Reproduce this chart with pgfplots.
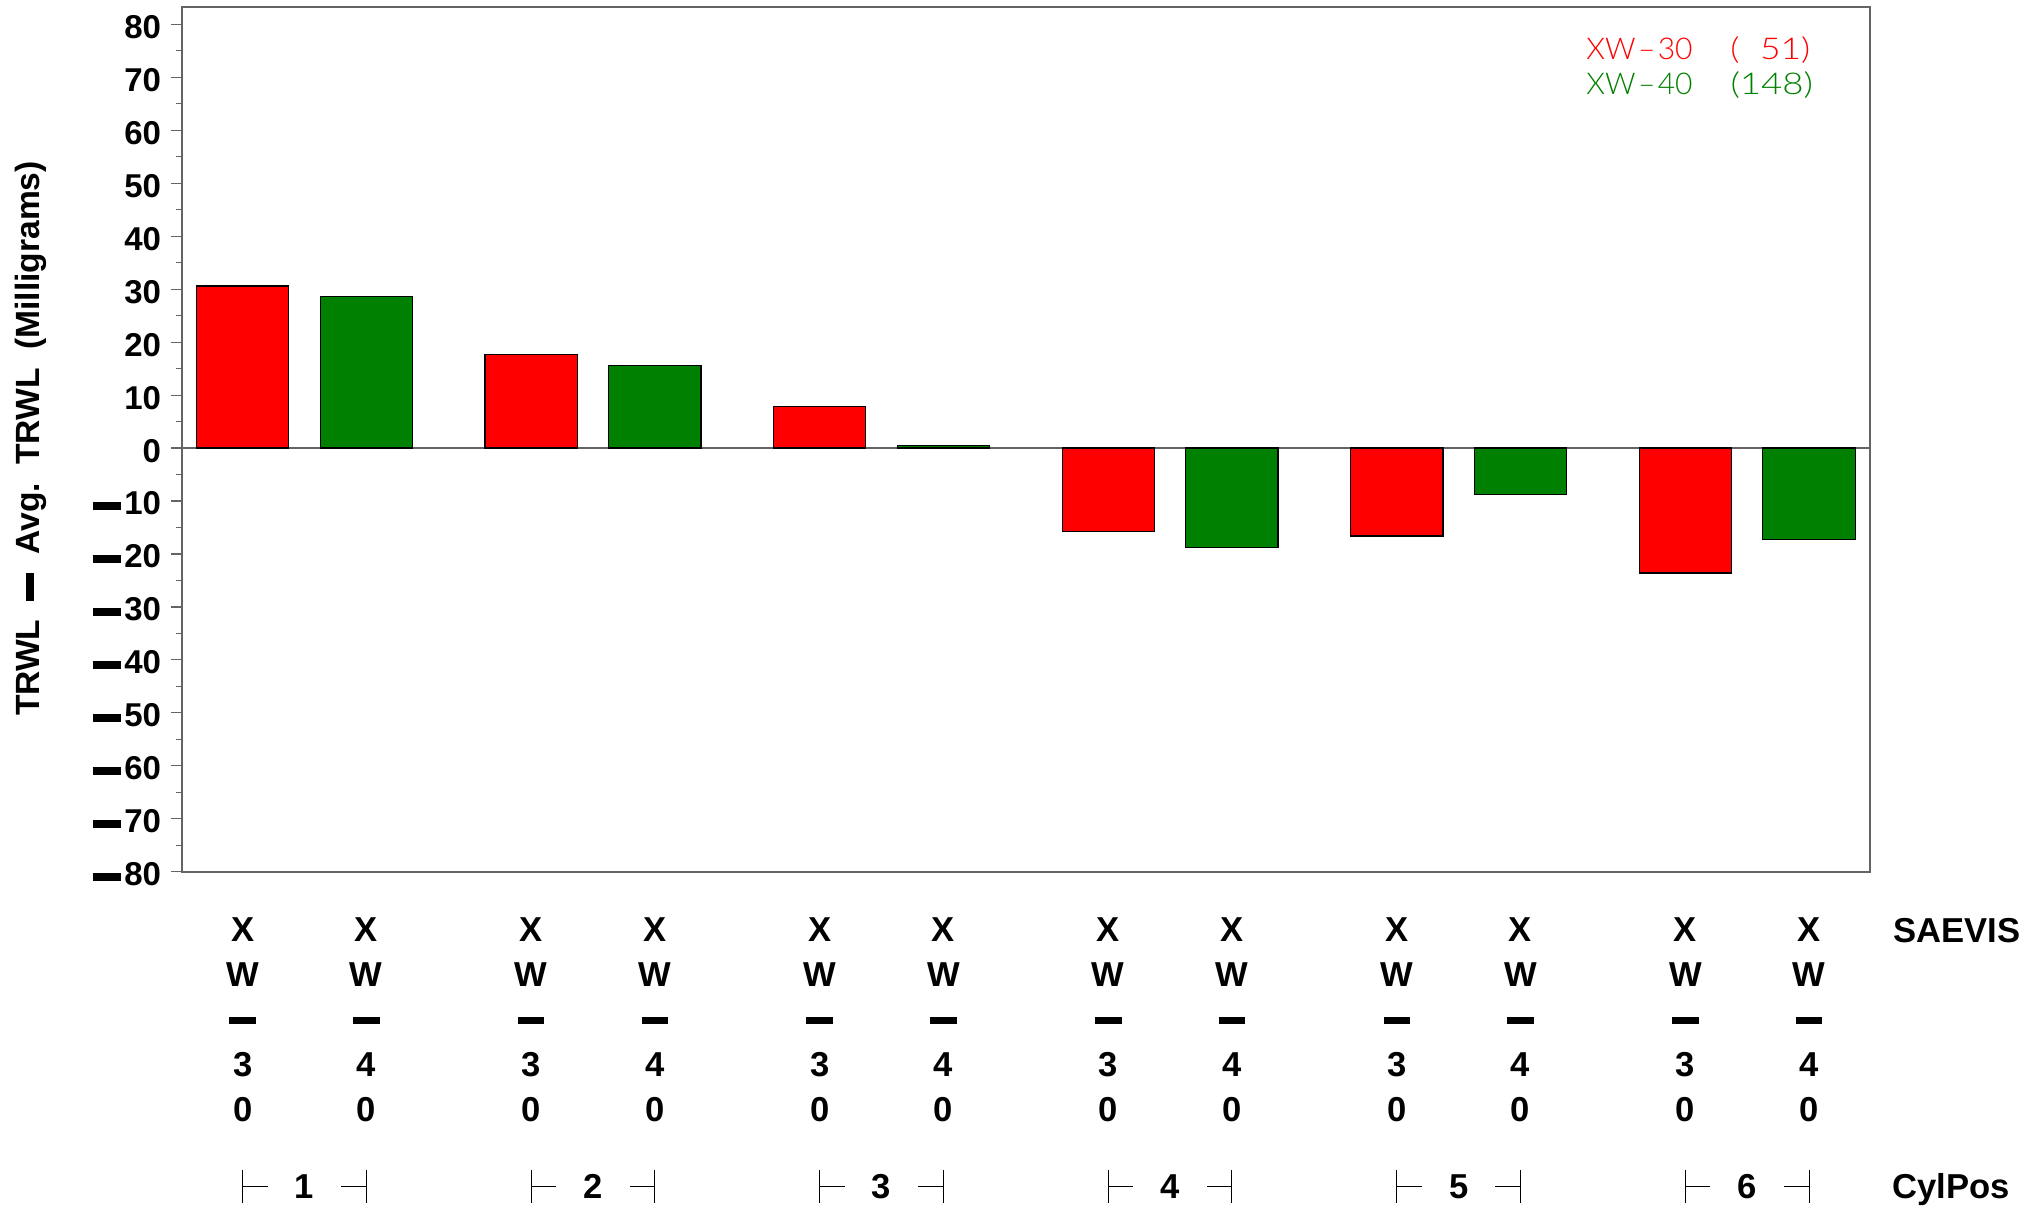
\documentclass[border=0pt]{standalone}
\usepackage{pgfplots}
\pgfplotsset{compat=1.18}
\usepackage{fontspec}
\setmainfont{Liberation Sans}
\newfontfamily\thinfont{Lato Light}
\definecolor{barred}{RGB}{255,0,0}
\definecolor{bargreen}{RGB}{0,128,0}
\definecolor{axgray}{RGB}{100,100,100}
\newcommand\mn{\rule[0.14em]{0.86em}{0.25em}\kern0.1em}
\newcommand\mnx{\rule[3.75pt]{13.25pt}{3.5pt}}
\begin{document}
\begin{tikzpicture}
\path[use as bounding box] (0pt,0pt) rectangle (1015pt,-603.5pt);
\begin{axis}[
  at={(90.85pt,-435.85pt)}, anchor=south west,
  scale only axis, width=843.9pt, height=432.4pt,
  xmin=-0.493, xmax=13.156, ymin=-80, ymax=83.3,
  axis line style={axgray, line width=1pt},
  clip=false,
  ybar, bar width=0.746,
  xtick={0,1,2.3333,3.3333,4.6667,5.6667,7,8,9.3333,10.3333,11.6667,12.6667},
  xticklabels={
    {X\\W\\\mnx\\3\\0},{X\\W\\\mnx\\4\\0},
    {X\\W\\\mnx\\3\\0},{X\\W\\\mnx\\4\\0},
    {X\\W\\\mnx\\3\\0},{X\\W\\\mnx\\4\\0},
    {X\\W\\\mnx\\3\\0},{X\\W\\\mnx\\4\\0},
    {X\\W\\\mnx\\3\\0},{X\\W\\\mnx\\4\\0},
    {X\\W\\\mnx\\3\\0},{X\\W\\\mnx\\4\\0}},
  xtick style={draw=none},
  xticklabel style={align=center, anchor=base, yshift=-119.6pt, inner sep=0pt,
    font=\fontsize{17.3}{22.5}\selectfont\bfseries},
  ytick={-80,-70,-60,-50,-40,-30,-20,-10,0,10,20,30,40,50,60,70,80},
  yticklabels={{\mn80},{\mn70},{\mn60},{\mn50},{\mn40},{\mn30},{\mn20},{\mn10},
    0,10,20,30,40,50,60,70,80},
  minor y tick num=1,
  ytick pos=left, tick align=outside,
  major tick length=5.35pt, minor tick length=3pt,
  ytick style={axgray, line width=0.6pt},
  yticklabel style={anchor=east, inner sep=0pt, xshift=-4.8pt, yshift=-1.3pt,
    font=\fontsize{16.5}{18}\selectfont\bfseries},
  extra y ticks={0}, extra y tick labels={},
  extra y tick style={grid=major, major grid style={axgray, line width=1pt}, major tick length=0pt},
  ylabel={TRWL\hspace{0.55em}\rule[0.14em]{0.83em}{0.25em}\hspace{0.55em}Avg.\hspace{0.55em}TRWL\hspace{0.55em}(Milligrams)},
  ylabel style={at={(rel axis cs:-0.0845,0.5009)}, anchor=base, rotate=0,
    font=\fontsize{16.8}{18}\selectfont\bfseries},
]
\addplot[fill=barred, draw=black, line width=0.6pt, bar shift=0pt] coordinates {
  (0,30.6) (2.3333,17.6) (4.6667,7.85) (7,-15.75) (9.3333,-16.6) (11.6667,-23.6)};
\addplot[fill=bargreen, draw=black, line width=0.6pt, bar shift=0pt] coordinates {
  (1,28.55) (3.3333,15.6) (5.6667,0.5) (8,-18.8) (10.3333,-8.7) (12.6667,-17.2)};
\newcommand\grp[3]{%
  \draw[black, line width=0.5pt] (axis cs:#1,-136.33) -- (axis cs:#1,-142.56);
  \draw[black, line width=0.5pt] (axis cs:#1,-139.35) -- (axis cs:#1+0.2022,-139.35);
  \draw[black, line width=0.5pt] (axis cs:#2,-136.33) -- (axis cs:#2,-142.56);
  \draw[black, line width=0.5pt] (axis cs:#2,-139.35) -- (axis cs:#2-0.2022,-139.35);
  \node[anchor=base, inner sep=0pt, font=\fontsize{17.3}{20}\selectfont\bfseries] at (axis cs:#1/2+#2/2,-141.71) {#3};}
\grp{0}{1}{1}
\grp{2.3333}{3.3333}{2}
\grp{4.6667}{5.6667}{3}
\grp{7}{8}{4}
\grp{9.3333}{10.3333}{5}
\grp{11.6667}{12.6667}{6}
\end{axis}
\node[anchor=base west, inner sep=0pt, font=\fontsize{17.3}{20}\selectfont\bfseries] at (946.5pt,-471.25pt) {SAEVIS};
\node[anchor=base west, inner sep=0pt, font=\fontsize{17.3}{20}\selectfont\bfseries] at (946pt,-599.25pt) {CylPos};
\begin{scope}[every node/.style={anchor=base west, inner sep=0pt, font=\fontsize{15}{17}\selectfont\thinfont}]
\node[text=barred, xscale=1.0] at (793pt,-29.65pt) {XW\kern0.08em–\kern0.08em30};
\node[text=barred, xscale=1.18] at (865pt,-29.65pt) {(\phantom{1}51)};
\node[text=bargreen, xscale=1.0] at (793pt,-47pt) {XW\kern0.08em–\kern0.08em40};
\node[text=bargreen, xscale=1.22] at (865pt,-47pt) {(148)};
\end{scope}
\end{tikzpicture}
\end{document}
